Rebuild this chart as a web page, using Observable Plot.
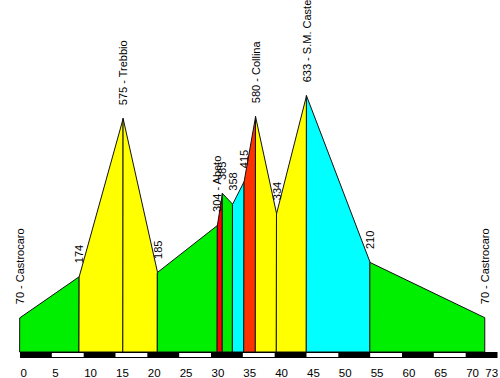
<!DOCTYPE html>
<html><head><meta charset="utf-8">
<script src="https://cdn.jsdelivr.net/npm/d3@7"></script>
<script src="https://cdn.jsdelivr.net/npm/@observablehq/plot@0.6"></script>
<style>html,body{margin:0;padding:0;background:#fff} svg{display:block}</style>
</head><body><div id="chart"></div>
<script>
// Stage profile: distance (km), elevation (m), labels
const km = [0, 9.3, 16.2, 21.6, 31.0, 31.8, 33.4, 35.2, 37.0, 40.3, 45.0, 55.0, 73.0];
const elevation = [70, 174, 575, 185, 304, 385, 358, 415, 580, 334, 633, 210, 70];
const pointLabels = ["70 - Castrocaro", "174", "575 - Trebbio", "185", "304 - Abeto", "385", "358", "415",
  "580 - Collina", "334", "633 - S.M. Caste", "210", "70 - Castrocaro"];
// colour of each stretch between consecutive points (gradient class)
const segmentColors = ["#00ee00", "#ffff00", "#ffff00", "#00ee00", "#ff0000", "#00ee00", "#00ffff",
  "#ff3300", "#ffff00", "#ffff00", "#00ffff", "#00ee00"];
const tickValues = [0, 5, 10, 15, 20, 25, 30, 35, 40, 45, 50, 55, 60, 65, 70, 73];
const stripEdges = [0, 5, 10, 15, 20, 25, 30, 35, 40, 45, 50, 55, 60, 65, 70, 75];

const yBase = -17, yTop = 876;

const segRows = [];
for (let i = 0; i < km.length - 1; i++) {
  segRows.push({seg: i, km: km[i], elev: elevation[i], color: segmentColors[i]});
  segRows.push({seg: i, km: km[i + 1], elev: elevation[i + 1], color: segmentColors[i]});
}
const points = km.map((k, i) => ({km: k, elev: elevation[i], label: pointLabels[i]}));
const strip = stripEdges.slice(0, -1).map((e, i) => ({x1: e, x2: stripEdges[i + 1], odd: i % 2 === 1}));

const chart = Plot.plot({
  width: 500, height: 378,
  marginTop: 0, marginRight: 2.5, marginBottom: 26, marginLeft: 20,
  x: {domain: [0, 75], axis: null},
  y: {domain: [yBase, yTop], axis: null},
  color: {type: "identity"},
  style: {fontFamily: "'Liberation Sans', Arial, sans-serif", background: "white", overflow: "visible"},
  marks: [
    Plot.areaY(segRows, {x: "km", y1: yBase, y2: "elev", z: "seg", fill: "color", stroke: "#111", strokeWidth: 1}),
    Plot.rect([{x1: 0, x2: 75}], {x1: "x1", x2: "x2", y1: yBase, y2: yBase, insetBottom: -6, fill: "black"}),
    Plot.rect(strip.filter(d => d.odd), {x1: "x1", x2: "x2", y1: yBase, y2: yBase, insetTop: 1, insetBottom: -5, fill: "white"}),
    Plot.text(points, {x: "km", y: "elev", text: "label", rotate: -90, textAnchor: "start", dy: -14, fontSize: 11, fill: "black"}),
    Plot.text(tickValues, {x: d => d, y: yBase, text: d => String(d), textAnchor: "start", dy: 21, fontSize: 11.5, fill: "black"})
  ]
});
document.getElementById("chart").appendChild(chart);
</script>
</body></html>
